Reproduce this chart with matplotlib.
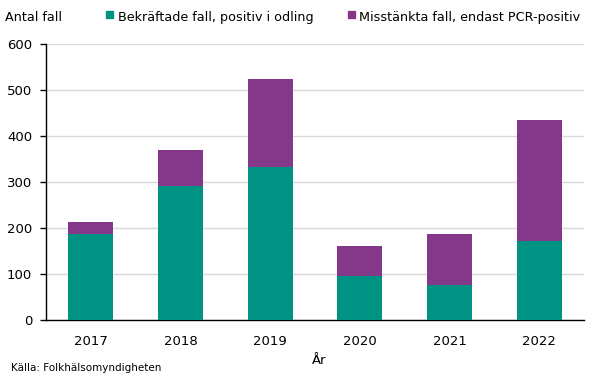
import matplotlib.pyplot as plt
from matplotlib.patches import Rectangle
import numpy as np

plt.rcParams['font.family'] = ['DejaVu Sans']

years = ['2017', '2018', '2019', '2020', '2021', '2022']
bekraftade = [188, 292, 333, 96, 76, 172]
misstankta = [25, 78, 191, 65, 111, 263]

teal = '#009283'
purple = '#84388A'

W, H = 606, 378
fig = plt.figure(figsize=(W / 100, H / 100), dpi=100)
ax = fig.add_axes([46 / W, 1 - 320 / H, 538 / W, 276 / H])

x = np.arange(len(years))
ax.bar(x, bekraftade, width=0.5, color=teal, zorder=3)
ax.bar(x, misstankta, width=0.5, bottom=bekraftade, color=purple, zorder=3)

ax.set_xlim(-0.5, len(years) - 0.5)
ax.set_ylim(0, 600)
ax.set_yticks(range(0, 601, 100))
ax.set_xticks(x)
ax.set_xticklabels(years)
ax.yaxis.grid(True, color='#d9d9d9', linewidth=1, zorder=0)
ax.spines['top'].set_visible(False)
ax.spines['right'].set_visible(False)
ax.spines['left'].set_linewidth(1)
ax.spines['bottom'].set_linewidth(1)
ax.tick_params(axis='y', length=4, width=1, labelsize=9.5, pad=6)
ax.tick_params(axis='x', length=0, labelsize=9.5, pad=11)

# header with legend squares, all on one baseline
ty = 1 - 21 / H
fig.text(5 / W, ty, 'Antal fall', fontsize=9.2, va='baseline', ha='left')
fig.patches.append(Rectangle((106 / W, 1 - 18 / H), 7 / W, 7 / H, color=teal,
                             transform=fig.transFigure, figure=fig))
fig.text(118 / W, ty, 'Bekräftade fall, positiv i odling', fontsize=9.2, va='baseline', ha='left')
fig.patches.append(Rectangle((348 / W, 1 - 18 / H), 7 / W, 7 / H, color=purple,
                             transform=fig.transFigure, figure=fig))
fig.text(359 / W, ty, 'Misstänkta fall, endast PCR-positiv', fontsize=9.2, va='baseline', ha='left')

fig.text(319 / W, 1 - 360 / H, 'År', fontsize=9.5, va='center', ha='center')
fig.text(11 / W, 1 - 368 / H, 'Källa: Folkhälsomyndigheten', fontsize=7.5, va='center', ha='left')

fig.savefig('out.png', dpi=100)
